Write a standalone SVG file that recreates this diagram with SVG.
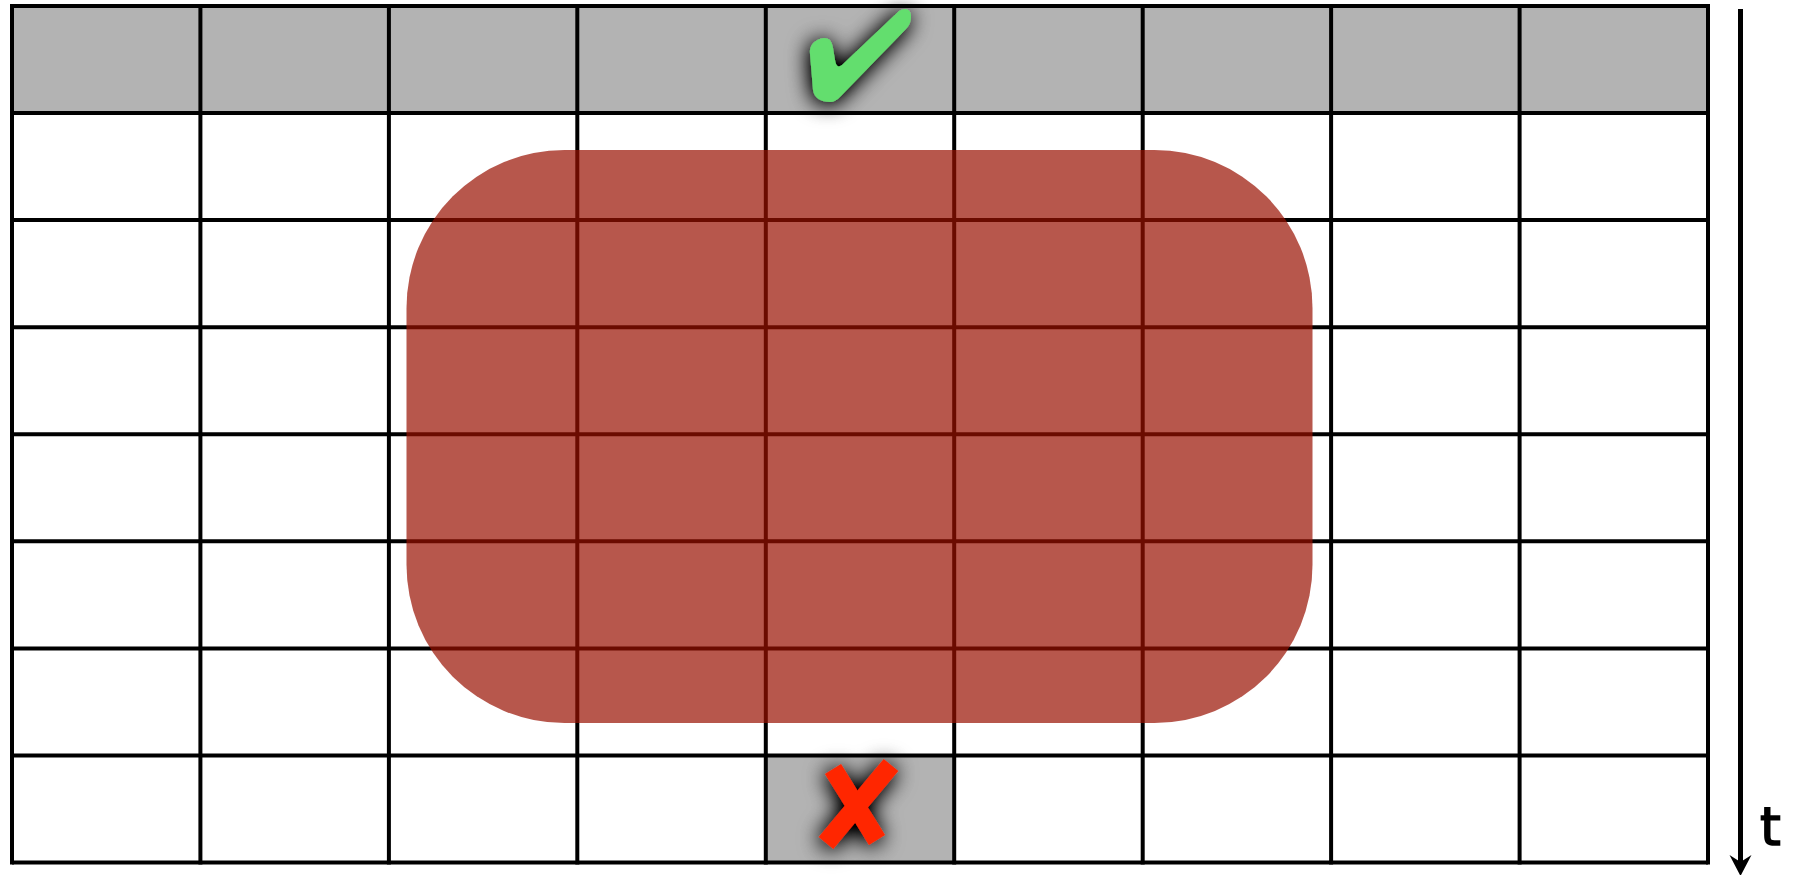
<svg xmlns="http://www.w3.org/2000/svg" width="1796" height="875" viewBox="0 0 1796 875">
<defs>
<style>
.cell{fill:#b3b3b3}
.grid line{stroke:#000;stroke-width:4}
.label{font-family:"DejaVu Sans","Liberation Sans",sans-serif;font-size:53px;fill:#000;stroke:#000;stroke-width:1.6}
.xstroke{stroke:#ff2600;stroke-width:19;stroke-linecap:butt}
</style>
<filter id="sh" x="-60%" y="-60%" width="220%" height="220%">
<feGaussianBlur in="SourceAlpha" stdDeviation="11" result="b"/>
<feOffset in="b" dx="-1" dy="2" result="o"/>
<feComponentTransfer in="o" result="d"><feFuncA type="linear" slope="1.4"/></feComponentTransfer>
<feMerge><feMergeNode in="d"/><feMergeNode in="SourceGraphic"/></feMerge>
</filter>
</defs>
<rect width="1796" height="875" fill="#fff"/>
<g id="highlighted-cells">
<rect class="cell" x="12" y="6" width="1696" height="107.5"/>
<rect class="cell" x="765.6" y="755.5" width="188.4" height="107"/>
</g>
<g id="grid" class="grid">
<line x1="12" y1="6" x2="1708" y2="6"/>
<line x1="12" y1="113.1" x2="1708" y2="113.1"/>
<line x1="12" y1="220.1" x2="1708" y2="220.1"/>
<line x1="12" y1="327.2" x2="1708" y2="327.2"/>
<line x1="12" y1="434.2" x2="1708" y2="434.2"/>
<line x1="12" y1="541.3" x2="1708" y2="541.3"/>
<line x1="12" y1="648.4" x2="1708" y2="648.4"/>
<line x1="12" y1="755.4" x2="1708" y2="755.4"/>
<line x1="12" y1="862.5" x2="1708" y2="862.5"/>
<line x1="12" y1="4" x2="12" y2="864.5"/>
<line x1="200.4" y1="4" x2="200.4" y2="864.5"/>
<line x1="388.9" y1="4" x2="388.9" y2="864.5"/>
<line x1="577.3" y1="4" x2="577.3" y2="864.5"/>
<line x1="765.8" y1="4" x2="765.8" y2="864.5"/>
<line x1="954.2" y1="4" x2="954.2" y2="864.5"/>
<line x1="1142.7" y1="4" x2="1142.7" y2="864.5"/>
<line x1="1331.1" y1="4" x2="1331.1" y2="864.5"/>
<line x1="1519.6" y1="4" x2="1519.6" y2="864.5"/>
<line x1="1708" y1="4" x2="1708" y2="864.5"/>
</g>
<g id="region">
<rect x="406.5" y="150" width="906" height="573" rx="158" ry="158" fill="#990f00" fill-opacity="0.7"/>
</g>
<g id="check" filter="url(#sh)">
<path d="M830 102 C821 102 814 98 813 90 L810 54 C809 45 815 39 824 38 C830 38 832 42 833 48 L835 60 C836 66 838 68 842 65 L899 11 C905 7 911 9 911 16 C911 22 909 26 906 29 L841 96 C837 100 834 102 830 102 Z" fill="#63de6e"/>
</g>
<g id="cross" filter="url(#sh)">
<line class="xstroke" x1="833" y1="769" x2="877" y2="840"/>
<line class="xstroke" x1="891" y1="765" x2="826" y2="843"/>
</g>
<g id="connectors">
<line x1="1740.5" y1="9" x2="1740.5" y2="864" stroke="#000" stroke-width="5"/>
<path d="M1740.5 876 L1729.5 855 L1740.5 862 L1751.5 855 Z" fill="#000"/>
</g>
<g id="axis-label">
<text class="label" x="1760" y="845">t</text>
</g>
</svg>
